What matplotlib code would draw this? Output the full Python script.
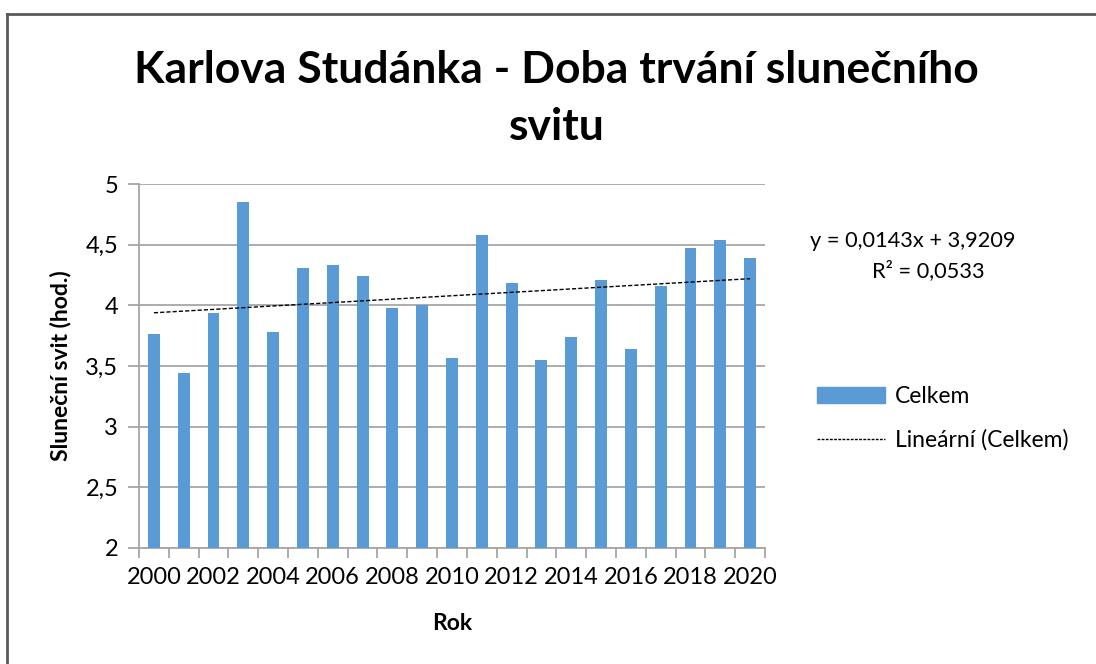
import numpy as np
import matplotlib
matplotlib.use('Agg')
import matplotlib.pyplot as plt
from matplotlib.lines import Line2D
from matplotlib.patches import Patch

# data
years = list(range(2000, 2021))
celkem = [3.76, 3.44, 3.94, 4.85, 3.78, 4.31, 4.33, 4.24, 3.98, 4.00,
          3.57, 4.58, 4.18, 3.55, 3.74, 4.21, 3.64, 4.16, 4.47, 4.54, 4.39]
tick_years = years[::2]
eq_text = 'y = 0,0143x + 3,9209'
r2_text = 'R² = 0,0533'

plt.rcParams['font.family'] = ['Lato', 'DejaVu Sans']
bar_color = '#5b9bd5'
grid_color = '#a6a6a6'

fig = plt.figure(figsize=(10.96, 6.64), dpi=100)
ax = fig.add_axes([139/1096, 1-548/664, (765-139)/1096, (548-184)/664])

x = np.arange(len(years))
ax.bar(x, celkem, width=0.4, color=bar_color, zorder=3)

# linear trend as in excel (x = 1..n)
xn = np.arange(1, len(years)+1)
k, q = np.polyfit(xn, celkem, 1)
ax.plot(x, k*xn + q, color='black', lw=1.0, ls=(0, (3, 1.5)), zorder=4)

ax.set_xlim(-0.5, len(years)-0.5)
ax.set_ylim(2, 5)
ax.set_yticks([2, 2.5, 3, 3.5, 4, 4.5, 5])
ax.set_yticklabels(['2', '2,5', '3', '3,5', '4', '4,5', '5'], fontsize=17)
ax.set_xticks([years.index(y) for y in tick_years])
ax.set_xticklabels([str(y) for y in tick_years], fontsize=17)
ax.set_xticks(np.arange(-0.5, len(years)), minor=True)
ax.tick_params(axis='x', which='major', length=0, pad=14)
ax.tick_params(axis='x', which='minor', length=7, color=grid_color, width=1.3)
ax.tick_params(axis='y', length=8, color=grid_color, width=1.3, pad=7)

ax.grid(axis='y', color=grid_color, lw=1.3, zorder=0)
for s in ['top', 'right']:
    ax.spines[s].set_visible(False)
for s in ['left', 'bottom']:
    ax.spines[s].set_color(grid_color)
    ax.spines[s].set_linewidth(1.3)

ax.set_xlabel('Rok', fontsize=16.5, fontweight='bold', labelpad=18)
ax.set_ylabel('Sluneční svit (hod.)', fontsize=16.5, fontweight='bold', labelpad=10)

fig.text(0.508, 1-70/664, 'Karlova Studánka - Doba trvání slunečního', ha='center', va='center',
         fontsize=32, fontweight='bold')
fig.text(0.508, 1-127/664, 'svitu', ha='center', va='center', fontsize=32, fontweight='bold')

fig.text(913/1096, 1-241/664, eq_text, ha='center', va='center', fontsize=15.7)
fig.text(928/1096, 1-271/664, r2_text, ha='center', va='center', fontsize=15.7)

handles = [Patch(color=bar_color), Line2D([], [], color='black', lw=1.0, ls=(0, (2, 1)))]
fig.legend(handles, ['Celkem', 'Lineární (Celkem)'], loc='upper left',
           bbox_to_anchor=(796/1096, 1-365/664), frameon=False, fontsize=16.5,
           handlelength=3.0, handleheight=0.7, handletextpad=0.4, labelspacing=1.0)

# outer chart border
fig.add_artist(Line2D([6.5/1096, 1.01], [1-13.5/664]*2, color='#595959', lw=2))
fig.add_artist(Line2D([6.5/1096]*2, [-0.01, 1-13.5/664], color='#595959', lw=2))

fig.savefig('out.png', dpi=100)
